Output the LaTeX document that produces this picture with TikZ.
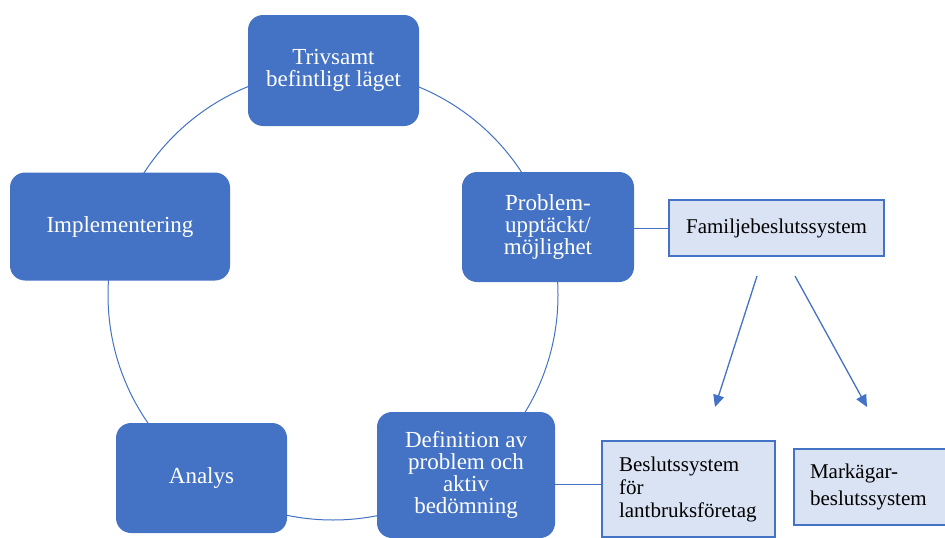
\documentclass[tikz,border=0pt]{standalone}
\usepackage{fontspec}
\setmainfont{Liberation Serif}
\usetikzlibrary{arrows.meta,calc}
\definecolor{bl}{HTML}{4472C4}
\definecolor{lb}{HTML}{DAE3F3}
\tikzset{
  cyc/.style={fill=bl, rounded corners=15pt, text=white, align=center, inner sep=2pt,
    font=\fontsize{23}{22}\selectfont},
  sidebox/.style={fill=lb, draw=bl, line width=1.5pt, text=black, align=left,
    font=\fontsize{21}{23}\selectfont},
  link/.style={draw=bl, line width=1pt},
  arr/.style={draw=bl, line width=1.3pt, -{Triangle[length=12pt,width=11pt]}}
}
\begin{document}
\begin{tikzpicture}[x=1pt,y=-1pt]
\useasboundingbox (0,0) rectangle (945,538);
\coordinate (c) at (333,295);
\draw[link] (c) circle[radius=225];
\node[cyc, minimum width=171pt, minimum height=111pt] (top) at (333.5,70.5) {Trivsamt\\befintligt läget};
\node[cyc, minimum width=172pt, minimum height=110pt] (prob) at (548,227) {Problem-\\upptäckt/\\möjlighet};
\node[cyc, minimum width=178pt, minimum height=126pt] (defn) at (466,475) {Definition av\\problem och\\aktiv\\bedömning};
\node[cyc, minimum width=171pt, minimum height=110pt] (anal) at (201.5,478) {Analys};
\node[cyc, minimum width=220pt, minimum height=108pt] (impl) at (120,226.5) {Implementering};
\node[sidebox, align=center, minimum width=215pt, minimum height=56pt] (fam) at (776.5,228) {Familjebeslutssystem};
\node[sidebox, inner xsep=17pt, text width=139pt, minimum height=96pt] (besl) at (688.5,489) {Beslutssystem\\för\\lantbruksföretag};
\node[sidebox, inner xsep=16pt, text width=140pt, minimum height=76pt, font=\fontsize{21}{27}\selectfont] (mark) at (880,487) {Markägar-\\beslutssystem};
\draw[link] (prob.east |- fam.west) -- (fam.west);
\path (defn.east) ++(0,9) coordinate (d1);
\draw[link] (d1) -- (d1 -| besl.west);
\coordinate (a1s) at (757,276);
\coordinate (a1e) at (715,407);
\coordinate (a2s) at (795,276);
\coordinate (a2e) at (867,407);
\draw[arr] (a1s) -- (a1e);
\draw[arr] (a2s) -- (a2e);
\end{tikzpicture}
\end{document}
